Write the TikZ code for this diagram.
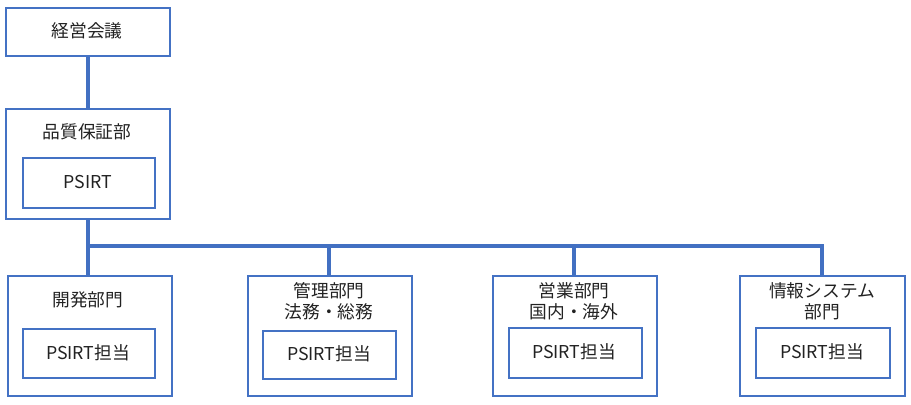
\documentclass[tikz,border=0pt]{standalone}
\usepackage{fontspec}
\setmainfont{Noto Sans CJK JP}
\begin{document}
\begin{tikzpicture}[x=0.75pt,y=-0.75pt,
  box/.style={draw=boxblue,line width=1.5pt,rectangle,inner sep=0pt,anchor=north west},
  lbl/.style={text=textgray,font=\fontsize{13.3pt}{16pt}\selectfont,inner sep=0pt,align=center},
  conn/.style={draw=lineblue,line width=3pt,line join=miter}]
\definecolor{boxblue}{HTML}{4472C4}
\definecolor{lineblue}{HTML}{4270C2}
\definecolor{textgray}{HTML}{222222}
\useasboundingbox (0,0) rectangle (911,404);
% top boxes
\node[box,minimum width=123pt,minimum height=36pt] (keiei) at (5,7) {};
\node[lbl] (keieiT) at (87,31) {経営会議};
\node[box,minimum width=123pt,minimum height=82.5pt] (hinshitsu) at (5,108) {};
\node[lbl] (hinshitsuT) at (87,132) {品質保証部};
\node[box,minimum width=99pt,minimum height=37.5pt] (psirt) at (22,157) {};
\node[lbl] (psirtT) at (88,182) {PSIRT};
% bottom boxes
\node[box,minimum width=123pt,minimum height=90pt] (kaihatsu) at (7,275) {};
\node[lbl] (kaihatsuT) at (88,300) {開発部門};
\node[box,minimum width=99pt,minimum height=37pt] (kaihatsuP) at (22,328) {};
\node[lbl] (kaihatsuPT) at (88,352.5) {PSIRT担当};

\node[box,minimum width=123pt,minimum height=90pt] (kanri) at (247,275) {};
\node[lbl] (kanriT) at (329,301.5) {管理部門\\法務・総務};
\node[box,minimum width=100pt,minimum height=36pt] (kanriP) at (262,330) {};
\node[lbl] (kanriPT) at (329,354) {PSIRT担当};

\node[box,minimum width=123pt,minimum height=90pt] (eigyo) at (492,275) {};
\node[lbl] (eigyoT) at (574,301.5) {営業部門\\国内・海外};
\node[box,minimum width=100pt,minimum height=37.5pt] (eigyoP) at (508,327) {};
\node[lbl] (eigyoPT) at (574,352) {PSIRT担当};

\node[box,minimum width=123.75pt,minimum height=90pt] (joho) at (739,275) {};
\node[lbl] (johoT) at (822,301.5) {情報システム\\部門};
\node[box,minimum width=100.5pt,minimum height=37.5pt] (johoP) at (755,327) {};
\node[lbl] (johoPT) at (822,352) {PSIRT担当};

% connectors
\coordinate (bus) at (88,246);
\draw[conn] (keiei.south -| 88,0) -- (hinshitsu.north -| 88,0);
\draw[conn] (hinshitsu.south -| 88,0) -- (kaihatsu.north -| 88,0);
\draw[conn] (bus) -| (kanri.north -| 329,0);
\draw[conn] (bus) -| (eigyo.north -| 574,0);
\draw[conn] (bus) -| (joho.north -| 822,0);
\end{tikzpicture}
\end{document}
